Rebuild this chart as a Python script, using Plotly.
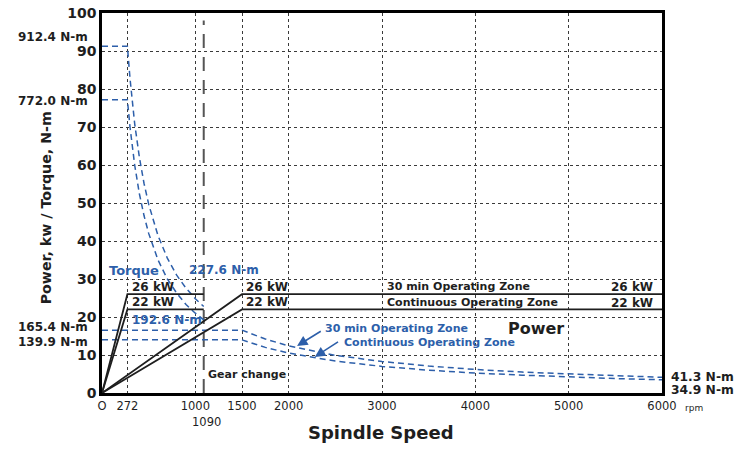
import plotly.graph_objects as go

# spindle speed ticks (rpm)
x_ticks = [0, 272, 1000, 1500, 2000, 3000, 4000, 5000, 6000]
x_ticktext = ['O', '272', '1000', '1500', '2000', '3000', '4000', '5000', '6000']
y_ticks = [0, 10, 20, 30, 40, 50, 60, 70, 80, 90, 100]

# power, low gear (kW)
low_rpm_30 = [0, 272, 1090]
low_kw_30 = [0, 26, 26]
low_rpm_cont = [0, 272, 1090]
low_kw_cont = [0, 22, 22]
# power, high gear (kW)
high_rpm_30 = [0, 1500, 6000]
high_kw_30 = [0, 26, 26]
high_rpm_cont = [0, 1500, 6000]
high_kw_cont = [0, 22, 22]

# torque, low gear (N-m / 10)
low_t_rpm = [0, 272, 300, 350, 400, 450, 500, 600, 700, 800, 900, 1000, 1090]
low_t_30 = [91.24, 91.24, 82.8, 70.9, 62.1, 55.2, 49.7, 41.4, 35.5, 31.0, 27.6, 24.8, 22.76]
low_t_cont = [77.2, 77.2, 70.0, 60.0, 52.5, 46.7, 42.0, 35.0, 30.0, 26.3, 23.3, 21.0, 19.26]
# torque, high gear (N-m / 10)
high_t_rpm = [0, 1500, 1750, 2000, 2500, 3000, 3500, 4000, 4500, 5000, 5500, 6000]
high_t_30 = [16.54, 16.54, 14.2, 12.4, 9.9, 8.3, 7.1, 6.2, 5.5, 5.0, 4.5, 4.13]
high_t_cont = [13.99, 13.99, 12.0, 10.5, 8.4, 7.0, 6.0, 5.25, 4.7, 4.2, 3.8, 3.49]

gear_change_rpm = 1090

BLUE = '#2d5faa'
INK = '#1e1e1e'
FONT = 'DejaVu Sans, Verdana, sans-serif'

fig = go.Figure()

# gear change line
fig.add_trace(go.Scatter(x=[gear_change_rpm, gear_change_rpm], y=[0, 98], mode='lines',
                         line=dict(color='#555555', width=2, dash='14px,9px')))

# torque curves
for xs, ys in [(low_t_rpm, low_t_30), (low_t_rpm, low_t_cont),
               (high_t_rpm, high_t_30), (high_t_rpm, high_t_cont)]:
    fig.add_trace(go.Scatter(x=xs, y=ys, mode='lines',
                             line=dict(color=BLUE, width=1.5, dash='6px,4px')))

# power curves
for xs, ys in [(low_rpm_30, low_kw_30), (low_rpm_cont, low_kw_cont),
               (high_rpm_30, high_kw_30), (high_rpm_cont, high_kw_cont)]:
    fig.add_trace(go.Scatter(x=xs, y=ys, mode='lines',
                             line=dict(color=INK, width=1.8)))


def note(x, y, text, color=INK, size=12, xanchor='left', ref='data', weight='bold'):
    kw = dict(xref='paper', yref='paper') if ref == 'paper' else {}
    fig.add_annotation(x=x, y=y, text=text, showarrow=False, xanchor=xanchor,
                       yanchor='middle', **kw,
                       font=dict(family=FONT, size=size, color=color, weight=weight))


# in-plot labels
note(50, 32.3, 'Torque', BLUE, 13)
note(910, 32.3, '227.6 N-m', BLUE, 12)
note(300, 27.9, '26 kW', INK, 12)
note(300, 23.9, '22 kW', INK, 12)
note(300, 19.2, '192.6 N-m', BLUE, 12)
note(1522, 27.9, '26 kW', INK, 12)
note(1522, 23.9, '22 kW', INK, 12)
note(3030, 27.9, '30 min Operating Zone', INK, 11)
note(3030, 23.8, 'Continuous Operating Zone', INK, 11)
note(5930, 27.9, '26 kW', INK, 12, xanchor='right')
note(5930, 23.8, '22 kW', INK, 12, xanchor='right')
note(4330, 17.1, 'Power', INK, 16)
note(2365, 17.1, '30 min Operating Zone', BLUE, 11)
note(2570, 13.2, 'Continuous Operating Zone', BLUE, 11)
note(1115, 4.8, 'Gear change', INK, 11)

# arrows
for tail, head in [((2360, 16.5), (2090, 12.4)), ((2545, 13.7), (2280, 9.5))]:
    fig.add_annotation(x=head[0], y=head[1], ax=tail[0], ay=tail[1], axref='x', ayref='y',
                       showarrow=True, arrowhead=2, arrowsize=1.3, arrowwidth=1.6,
                       arrowcolor=BLUE, text='')

# labels outside the plot
note(-0.021, 0.936, '912.4 N-m', INK, 12, xanchor='right', ref='paper')
note(-0.021, 0.768, '772.0 N-m', INK, 12, xanchor='right', ref='paper')
note(-0.021, 0.173, '165.4 N-m', INK, 12, xanchor='right', ref='paper')
note(-0.021, 0.134, '139.9 N-m', INK, 12, xanchor='right', ref='paper')
note(1.013, 0.042, '41.3 N-m', INK, 12.3, ref='paper')
note(1.013, 0.008, '34.9 N-m', INK, 12.3, ref='paper')
note(0.187, -0.076, '1090', INK, 11.5, xanchor='center', ref='paper', weight='normal')
note(1.038, -0.04, 'rpm', INK, 9, ref='paper', weight='normal')
note(0.498, -0.105, 'Spindle Speed', INK, 18, xanchor='center', ref='paper')
fig.add_annotation(x=-0.10, y=0.486, xref='paper', yref='paper', text='Power, kw / Torque, N-m',
                   textangle=-90, showarrow=False, xanchor='center', yanchor='middle',
                   font=dict(family=FONT, size=14.2, color=INK, weight='bold'))

fig.update_layout(
    width=736, height=449,
    margin=dict(l=102, r=74, t=13, b=56),
    paper_bgcolor='white', plot_bgcolor='white',
    showlegend=False,
    xaxis=dict(range=[0, 6000], tickvals=x_ticks, ticktext=x_ticktext, automargin=False,
               showgrid=True, gridcolor='#3a3a3a', griddash='dot', gridwidth=1.4,
               showline=True, linecolor='black', linewidth=2.5, mirror=True,
               zeroline=False, ticks='', tickangle=0,
               tickfont=dict(family=FONT, size=11.5, color=INK)),
    yaxis=dict(range=[0, 100], tickvals=y_ticks, automargin=False,
               showgrid=True, gridcolor='#3a3a3a', griddash='dot', gridwidth=1.4,
               showline=True, linecolor='black', linewidth=2.5, mirror=True,
               zeroline=False, ticks='',
               tickfont=dict(family=FONT, size=14, color=INK, weight='bold')),
)

fig.write_html('out.html', config={'displayModeBar': False},
               post_script="document.body.style.margin='0';")
